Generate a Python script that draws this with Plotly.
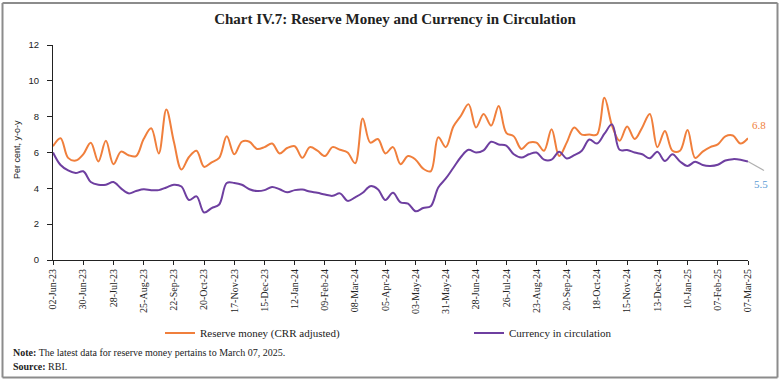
import pandas as pd
import plotly.graph_objects as go

# ---------------- data ----------------
start_date = "2023-06-02"
n_weeks = 93

reserve_money = [
    6.35, 6.8, 5.7, 5.55, 5.9, 6.55, 5.5, 6.65, 5.35, 6.05,
    5.85, 5.8, 6.75, 7.35, 5.95, 8.4, 6.6, 5.05, 5.75, 6.1,
    5.2, 5.45, 5.7, 6.9, 5.9, 6.6, 6.6, 6.2, 6.3, 6.5,
    5.95, 6.25, 6.35, 5.7, 6.3, 6.1, 5.8, 6.3, 6.15, 6.0,
    5.4, 7.9, 6.55, 6.75, 5.95, 6.3, 5.35, 5.8, 5.6, 5.1,
    4.95, 6.85, 6.3, 7.45, 8.05, 8.7, 7.4, 8.15, 7.5, 8.6,
    7.1, 6.9, 6.2, 6.55, 6.55, 6.1, 7.3, 5.8, 6.55, 7.4,
    7.0, 7.0, 7.0, 9.05, 7.5, 6.65, 7.45, 6.75, 7.4, 8.15,
    6.3, 7.2, 6.1, 6.1, 7.25, 5.7, 6.05, 6.3, 6.45, 6.9,
    6.95, 6.5, 6.8,
]

currency = [
    6.0, 5.3, 5.0, 4.85, 4.95, 4.35, 4.2, 4.2, 4.35, 4.0,
    3.72, 3.85, 3.95, 3.9, 3.9, 4.05, 4.2, 4.1, 3.35, 3.55,
    2.65, 2.9, 3.1, 4.3, 4.3, 4.2, 3.95, 3.85, 3.9, 4.08,
    3.95, 3.78, 3.9, 3.93, 3.82, 3.75, 3.65, 3.58, 3.72, 3.3,
    3.5, 3.75, 4.12, 3.95, 3.35, 3.75, 3.22, 3.15, 2.72, 2.9,
    3.0, 4.05, 4.55, 5.15, 5.75, 6.15, 6.0, 6.12, 6.6, 6.45,
    6.38, 5.9, 5.72, 5.9, 6.0, 5.6, 5.6, 6.04, 5.67, 5.85,
    6.1, 6.73, 6.5, 7.05, 7.57, 6.15, 6.14, 6.0, 5.9, 5.68,
    6.04, 5.52, 5.9, 5.5, 5.25, 5.48, 5.3, 5.25, 5.32, 5.55,
    5.63, 5.6, 5.5,
]

tick_labels = [
    "02-Jun-23", "30-Jun-23", "28-Jul-23", "25-Aug-23", "22-Sep-23", "20-Oct-23",
    "17-Nov-23", "15-Dec-23", "12-Jan-24", "09-Feb-24", "08-Mar-24", "05-Apr-24",
    "03-May-24", "31-May-24", "28-Jun-24", "26-Jul-24", "23-Aug-24", "20-Sep-24",
    "18-Oct-24", "15-Nov-24", "13-Dec-24", "10-Jan-25", "07-Feb-25", "07-Mar-25",
]

y_ticks = [0, 2, 4, 6, 8, 10, 12]

dates = pd.date_range(start_date, periods=n_weeks, freq="7D")
tick_dates = pd.to_datetime(tick_labels, format="%d-%b-%y")

# ---------------- layout constants ----------------
W, H = 781, 381
ML, MR, MT, MB = 53, 33, 45, 121
PW, PH = W - ML - MR, H - MT - MB

def px_x(px):
    return (px - ML) / PW

def px_y(py):
    return (H - MB - py) / PH

SERIF = "Liberation Serif"
SANS = "Liberation Sans"
ORANGE = "#F07F3C"
PURPLE = "#6E3FA0"
TXT = "#222222"

fig = go.Figure()
fig.add_trace(go.Scatter(
    x=dates, y=reserve_money, mode="lines", name="Reserve money (CRR adjusted)",
    line=dict(color=ORANGE, width=2, shape="spline", smoothing=1.0),
))
fig.add_trace(go.Scatter(
    x=dates, y=currency, mode="lines", name="Currency in circulation",
    line=dict(color=PURPLE, width=2, shape="spline", smoothing=1.0),
))

fig.update_layout(
    width=W, height=H,
    margin=dict(l=ML, r=MR, t=MT, b=MB, autoexpand=False),
    paper_bgcolor="white", plot_bgcolor="white",
    title=dict(
        text="<b>Chart IV.7: Reserve Money and Currency in Circulation</b>",
        x=395 / W, xanchor="center", y=1 - 19 / H, yanchor="middle",
        font=dict(family=SERIF, size=15, color=TXT),
    ),
    showlegend=True,
    legend=dict(
        orientation="h", x=px_x(160), xanchor="left", y=px_y(333), yanchor="middle",
        font=dict(family=SERIF, size=11, color=TXT),
        entrywidth=264, entrywidthmode="pixels",
        bgcolor="rgba(0,0,0,0)", tracegroupgap=0, itemwidth=30,
    ),
)

fig.update_xaxes(
    type="date", range=[dates[0], dates[-1]], automargin=False,
    tickvals=list(tick_dates), ticktext=tick_labels, tickangle=-90,
    ticks="outside", ticklen=4, tickcolor="#222", tickwidth=1,
    showline=True, linecolor="#222", linewidth=1,
    showgrid=False, zeroline=False,
    tickfont=dict(family=SERIF, size=10, color=TXT),
)
fig.update_yaxes(
    range=[0, 12], tickvals=y_ticks, automargin=False,
    ticks="outside", ticklen=5, tickcolor="#222", tickwidth=1,
    ticklabelstandoff=6,
    showline=True, linecolor="#222", linewidth=1,
    showgrid=False, zeroline=False,
    tickfont=dict(family=SANS, size=9.5, color=TXT),
)

annotations = [
    dict(text="Per cent, y-o-y", xref="paper", yref="paper", x=px_x(17), y=px_y(150),
         textangle=-90, showarrow=False, xanchor="center", yanchor="middle",
         font=dict(family=SANS, size=9, color=TXT)),
    dict(text=f"{reserve_money[-1]:.1f}", xref="x", yref="y", x=dates[-1], y=reserve_money[-1],
         xshift=11, yshift=13, showarrow=False, font=dict(family=SERIF, size=11, color=ORANGE)),
    dict(text=f"{currency[-1]:.1f}", xref="x", yref="y", x=dates[-1], y=currency[-1],
         xshift=13, yshift=-23, showarrow=False, font=dict(family=SERIF, size=11, color="#5B9BD5")),
    dict(text="<b>Note:</b> The latest data for reserve money pertains to March 07, 2025.",
         xref="paper", yref="paper", x=px_x(11), y=px_y(352), xanchor="left", yanchor="middle",
         showarrow=False, font=dict(family=SERIF, size=10, color=TXT)),
    dict(text="<b>Source:</b> RBI.",
         xref="paper", yref="paper", x=px_x(11), y=px_y(366), xanchor="left", yanchor="middle",
         showarrow=False, font=dict(family=SERIF, size=10, color=TXT)),
]
fig.update_layout(annotations=annotations)

frame_col = "#8c8c8c"
shapes = [
    # outer frame (four edges)
    dict(type="line", xref="paper", yref="paper", x0=px_x(2.5), x1=px_x(777.5), y0=px_y(3), y1=px_y(3),
         line=dict(color=frame_col, width=2), layer="above"),
    dict(type="line", xref="paper", yref="paper", x0=px_x(2.5), x1=px_x(777.5), y0=px_y(377.5), y1=px_y(377.5),
         line=dict(color=frame_col, width=2), layer="above"),
    dict(type="line", xref="paper", yref="paper", x0=px_x(2.5), x1=px_x(2.5), y0=px_y(3), y1=px_y(377.5),
         line=dict(color=frame_col, width=2), layer="above"),
    dict(type="line", xref="paper", yref="paper", x0=px_x(777.5), x1=px_x(777.5), y0=px_y(3), y1=px_y(377.5),
         line=dict(color=frame_col, width=2), layer="above"),
    # leader line for data label
    dict(type="line", xref="paper", yref="y",
         xsizemode="pixel", xanchor=1, x0=0, x1=16,
         ysizemode="pixel", yanchor=currency[-1], y0=0, y1=-9,
         line=dict(color="#B0B0B0", width=1.2), layer="above"),
]
fig.update_layout(shapes=shapes)

fig.write_html(
    "out.html",
    config={"displayModeBar": False},
    post_script="document.body.style.margin='0';document.body.style.padding='0';",
)
